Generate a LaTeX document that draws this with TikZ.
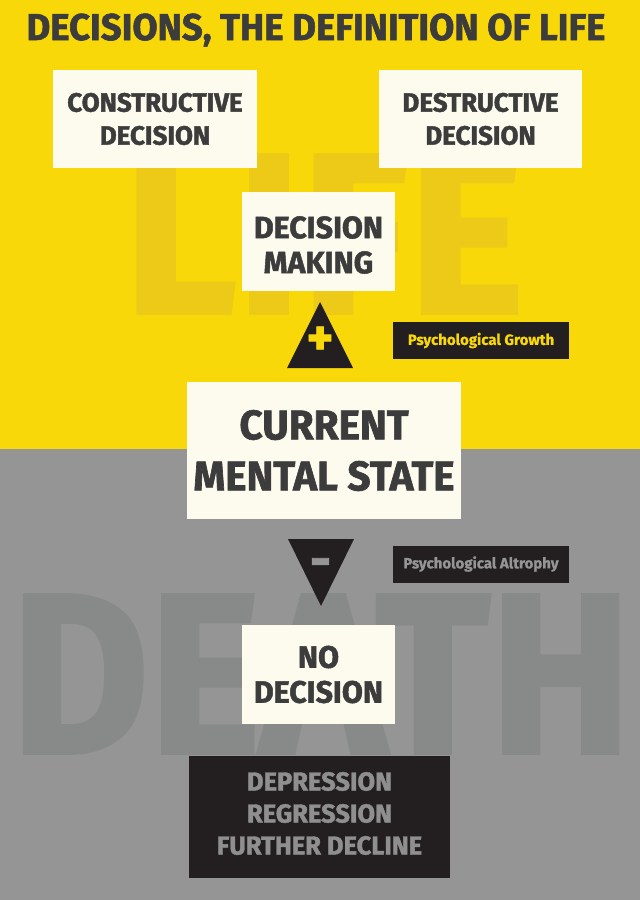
\documentclass[tikz,border=0pt]{standalone}
\usepackage{fontspec}
\usepackage{graphicx}
\setmainfont{Fira Sans}
\IfFontExistsTF{Fira Sans Heavy}
  {\newfontfamily\headfont{Fira Sans Heavy}[FakeStretch=0.98]}
  {\newfontfamily\headfontreg{Fira Sans}[FakeStretch=0.98, BoldFeatures={FakeBold=1.6}]\newcommand\headfont{\headfontreg\bfseries}}
\newfontfamily\labelfont{Fira Sans}[BoldFeatures={FakeBold=0.8}]

\definecolor{sunny}{RGB}{249,216,10}
\definecolor{sunnydark}{RGB}{237,201,24}
\definecolor{ash}{RGB}{149,149,149}
\definecolor{ashdark}{RGB}{136,138,137}
\definecolor{cream}{RGB}{252,251,238}
\definecolor{ink}{RGB}{60,60,60}
\definecolor{night}{RGB}{35,31,32}
\definecolor{fog}{RGB}{143,143,143}

\begin{document}
\begin{tikzpicture}[x=1pt, y=-1pt,
	box/.style={fill=cream, text=ink, align=center, inner sep=0pt},
	tag/.style={fill=night, inner sep=0pt, minimum width=176pt, minimum height=37pt, font=\labelfont\bfseries\fontsize{15}{18}\selectfont},
	signtext/.style={inner sep=0pt, font=\headfont\fontsize{52}{52}\selectfont}]
	
	\useasboundingbox (0,0) rectangle (640,900);
	
	% Background
	\fill[sunny] (0,0) rectangle (640,449);
	\fill[ash] (0,449) rectangle (640,900);
	\node[text=sunnydark, inner sep=0pt] (lifemark) at (324,234) {\resizebox{400pt}{158pt}{\headfont LIFE}};
	\node[text=ashdark, inner sep=0pt] (deathmark) at (321,674) {\resizebox{620pt}{158pt}{\headfont DEATH}};
	
	% Title
	\node[text=ink, inner sep=0pt, anchor=base, font=\headfont\fontsize{37.3}{40}\selectfont] (title) at (316,40) {DECISIONS, THE DEFINITION OF LIFE};
	
	% Nodes
	\node[box, minimum width=204pt, minimum height=98pt, font=\headfont\fontsize{26.5}{33}\selectfont] (constructive) at (155,119) {CONSTRUCTIVE\\DECISION};
	\node[box, minimum width=203pt, minimum height=98pt, font=\headfont\fontsize{26.5}{33}\selectfont] (destructive) at (480.5,119) {DESTRUCTIVE\\DECISION};
	\node[box, minimum width=153pt, minimum height=99pt] (making) at (318.5,241.5) {};
	\node[text=ink, align=center, inner sep=0pt, font=\headfont\fontsize{31}{35}\selectfont] (makingtext) at (318.5,245) {DECISION\\MAKING};
	\node[box, minimum width=274pt, minimum height=137pt, font=\headfont\fontsize{41.3}{51}\selectfont] (current) at (324,450.5) {CURRENT\\MENTAL STATE};
	\node[box, minimum width=153pt, minimum height=99pt, font=\headfont\fontsize{31}{35}\selectfont] (nodecision) at (318.5,674.5) {NO\\DECISION};
	\node[box, fill=night, minimum width=261pt, minimum height=122pt] (decline) at (319.5,817) {};
	\node[text=fog, align=center, inner sep=0pt, font=\headfont\fontsize{26}{32}\selectfont] (declinetext) at (319.5,813.5) {DEPRESSION\\REGRESSION\\FURTHER DECLINE};
	
	% Labels
	\node[tag, text=sunny] (growth) at (481,340.5) {Psychological Growth};
	\node[tag, text=ash] (altrophy) at (481,564) {Psychological Altrophy};
	
	% Triangles
	\coordinate (up) at (320,335);
	\coordinate (down) at (321,572.5);
	\fill[night] (up) +(0,-33) -- +(33,33) -- +(-33,33) -- cycle;
	\fill[night] (down) +(0,33.5) -- +(33,-33.5) -- +(-33,-33.5) -- cycle;
	\node[signtext, text=sunny] (plus) at (320,341) {+};
	\node[signtext, text=ash] (minus) at (320.5,568) {-};
\end{tikzpicture}
\end{document}
